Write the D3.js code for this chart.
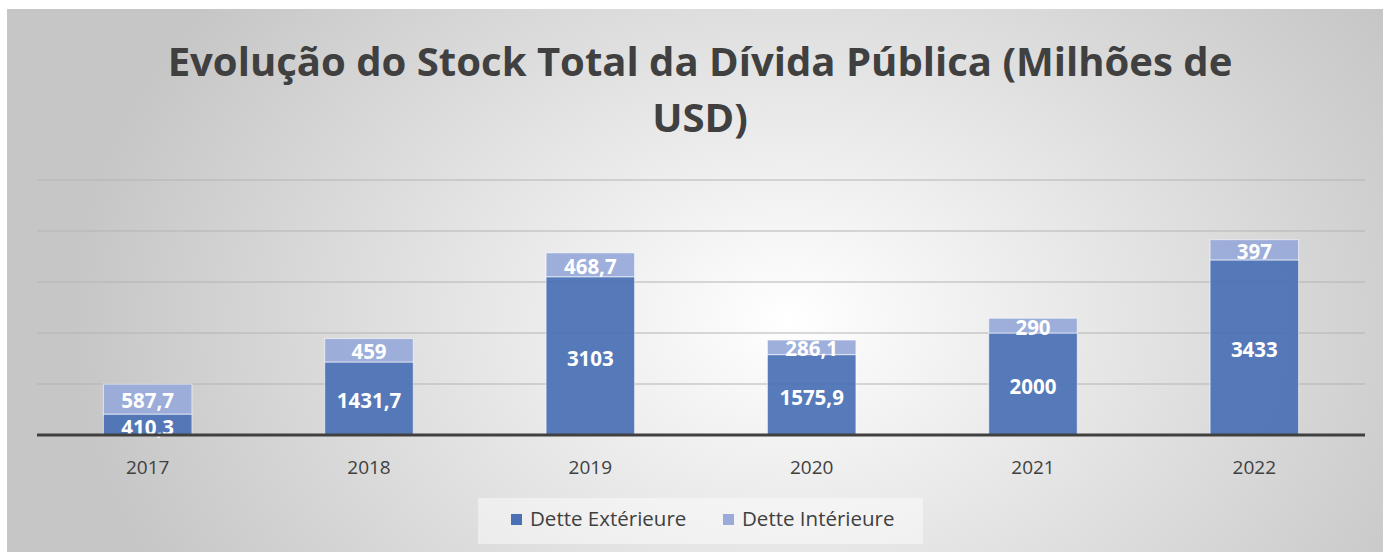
<!DOCTYPE html>
<html>
<head>
<meta charset="utf-8">
<script src="https://cdn.jsdelivr.net/npm/d3@7"></script>
<style>
  body { margin: 0; background: #fff; }
  svg { display: block; }
</style>
</head>
<body>
<div id="chart-area"></div>
<script>
// Données
const years = ["2017", "2018", "2019", "2020", "2021", "2022"];
const detteExterieure = [410.3, 1431.7, 3103, 1575.9, 2000, 3433];
const detteInterieure = [587.7, 459, 468.7, 286.1, 290, 397];
const labelsExt = ["410,3", "1431,7", "3103", "1575,9", "2000", "3433"];
const labelsInt = ["587,7", "459", "468,7", "286,1", "290", "397"];
const seriesNames = ["Dette Extérieure", "Dette Intérieure"];
const yTicks = [0, 1000, 2000, 3000, 4000, 5000];

const W = 1383, H = 552;
const font = "Open Sans, Calibri, sans-serif";
const textColor = "#404040";
const colExt = "#4a70b6";
const colInt = "#9aabd9";

let svg = d3.select("#chart-area")
	.append("svg")
	.attr("width", W)
	.attr("height", H);

// fond dégradé
const defs = svg.append("defs");
const grad = defs.append("radialGradient")
	.attr("id", "bg")
	.attr("gradientUnits", "userSpaceOnUse")
	.attr("cx", 790).attr("cy", 320).attr("r", 720)
	.attr("gradientTransform", "translate(790,320) scale(1,0.75) translate(-790,-320)");
grad.append("stop").attr("offset", "0%").attr("stop-color", "#ffffff");
grad.append("stop").attr("offset", "100%").attr("stop-color", "#c6c6c6");

svg.append("rect")
	.attr("x", 7).attr("y", 9)
	.attr("width", W - 7).attr("height", H - 9)
	.attr("fill", "url(#bg)");

// Echelles
const plot = {left: 37, right: 1365, top: 180, bottom: 435};
let x = d3.scaleBand().domain(years).range([plot.left, plot.right]).paddingInner(0.6).paddingOuter(0.3);
let y = d3.scaleLinear().domain([0, 5000]).range([plot.bottom, plot.top]);

// Grille
svg.append("g").selectAll("line")
	.data(yTicks.slice(1))
	.enter().append("line")
	.attr("x1", plot.left).attr("x2", plot.right)
	.attr("y1", d => y(d)).attr("y2", d => y(d))
	.attr("stroke", "#b4b4b4")
	.attr("stroke-width", 1.2);

// Titre
const title = svg.append("text")
	.attr("x", 700)
	.attr("text-anchor", "middle")
	.attr("font-family", font)
	.attr("font-weight", "bold")
	.attr("fill", textColor)
	.attr("font-size", "42px");
title.append("tspan").attr("x", 700).attr("y", 76).text("Evolução do Stock Total da Dívida Pública (Milhões de");
title.append("tspan").attr("x", 700).attr("y", 132).text("USD)");
// ajuste la taille pour la largeur de la référence
const tw = title.select("tspan").node().getComputedTextLength();
title.attr("font-size", (42 * 1065 / tw).toFixed(2) + "px");

// Barres empilées
const stacked = years.map((yr, i) => ({year: yr, ext: detteExterieure[i], int: detteInterieure[i], le: labelsExt[i], li: labelsInt[i]}));

const bars = svg.append("g");
bars.selectAll(".ext")
	.data(stacked)
	.enter().append("rect")
	.attr("class", "ext")
	.attr("x", d => x(d.year))
	.attr("width", x.bandwidth())
	.attr("y", d => y(d.ext))
	.attr("height", d => y(0) - y(d.ext))
	.attr("fill", colExt)
	.attr("fill-opacity", 0.93)
	.attr("stroke", "#ffffff")
	.attr("stroke-opacity", 0.6)
	.attr("stroke-width", 1);

bars.selectAll(".int")
	.data(stacked)
	.enter().append("rect")
	.attr("class", "int")
	.attr("x", d => x(d.year))
	.attr("width", x.bandwidth())
	.attr("y", d => y(d.ext + d.int))
	.attr("height", d => y(d.ext) - y(d.ext + d.int))
	.attr("fill", colInt)
	.attr("fill-opacity", 0.95)
	.attr("stroke", "#ffffff")
	.attr("stroke-opacity", 0.6)
	.attr("stroke-width", 1);

// Etiquettes
const lblStyle = sel => sel
	.attr("text-anchor", "middle")
	.attr("dominant-baseline", "central")
	.attr("font-family", font)
	.attr("font-weight", "bold")
	.attr("font-size", "20.5px")
	.attr("fill", "#ffffff");

bars.selectAll(".lext")
	.data(stacked)
	.enter().append("text")
	.attr("x", d => x(d.year) + x.bandwidth() / 2)
	.attr("y", d => y(d.ext / 2) + 2)
	.text(d => d.le)
	.call(lblStyle);

bars.selectAll(".lint")
	.data(stacked)
	.enter().append("text")
	.attr("x", d => x(d.year) + x.bandwidth() / 2)
	.attr("y", d => y(d.ext + d.int / 2) + 1)
	.text(d => d.li)
	.call(lblStyle);

// Axe X
svg.append("line")
	.attr("x1", plot.left).attr("x2", plot.right)
	.attr("y1", y(0)).attr("y2", y(0))
	.attr("stroke", "#404040")
	.attr("stroke-width", 3);

const axisBottom = d3.axisBottom(x).tickSize(0).tickPadding(0);
const xGroup = svg.append("g").attr("transform", `translate(0, ${y(0)})`).call(axisBottom);
xGroup.select(".domain").remove();
xGroup.selectAll("text")
	.attr("y", 39)
	.attr("dy", 0)
	.attr("font-family", font)
	.attr("font-size", "19px")
	.attr("fill", textColor);

// Légende
const legend = svg.append("g");
legend.append("rect")
	.attr("x", 478).attr("y", 498)
	.attr("width", 445).attr("height", 46)
	.attr("fill", "#ffffff").attr("fill-opacity", 0.45);

const legendX = [511, 723];
[colExt, colInt].forEach((c, i) => {
	let row = legend.append("g").attr("transform", `translate(${legendX[i]}, 514)`);
	row.append("rect")
		.attr("width", 11).attr("height", 11)
		.attr("fill", c);
	row.append("text")
		.attr("x", 19)
		.attr("y", 12)
		.attr("font-family", font)
		.attr("font-size", "20.5px")
		.attr("fill", textColor)
		.text(seriesNames[i]);
});
</script>
</body>
</html>
